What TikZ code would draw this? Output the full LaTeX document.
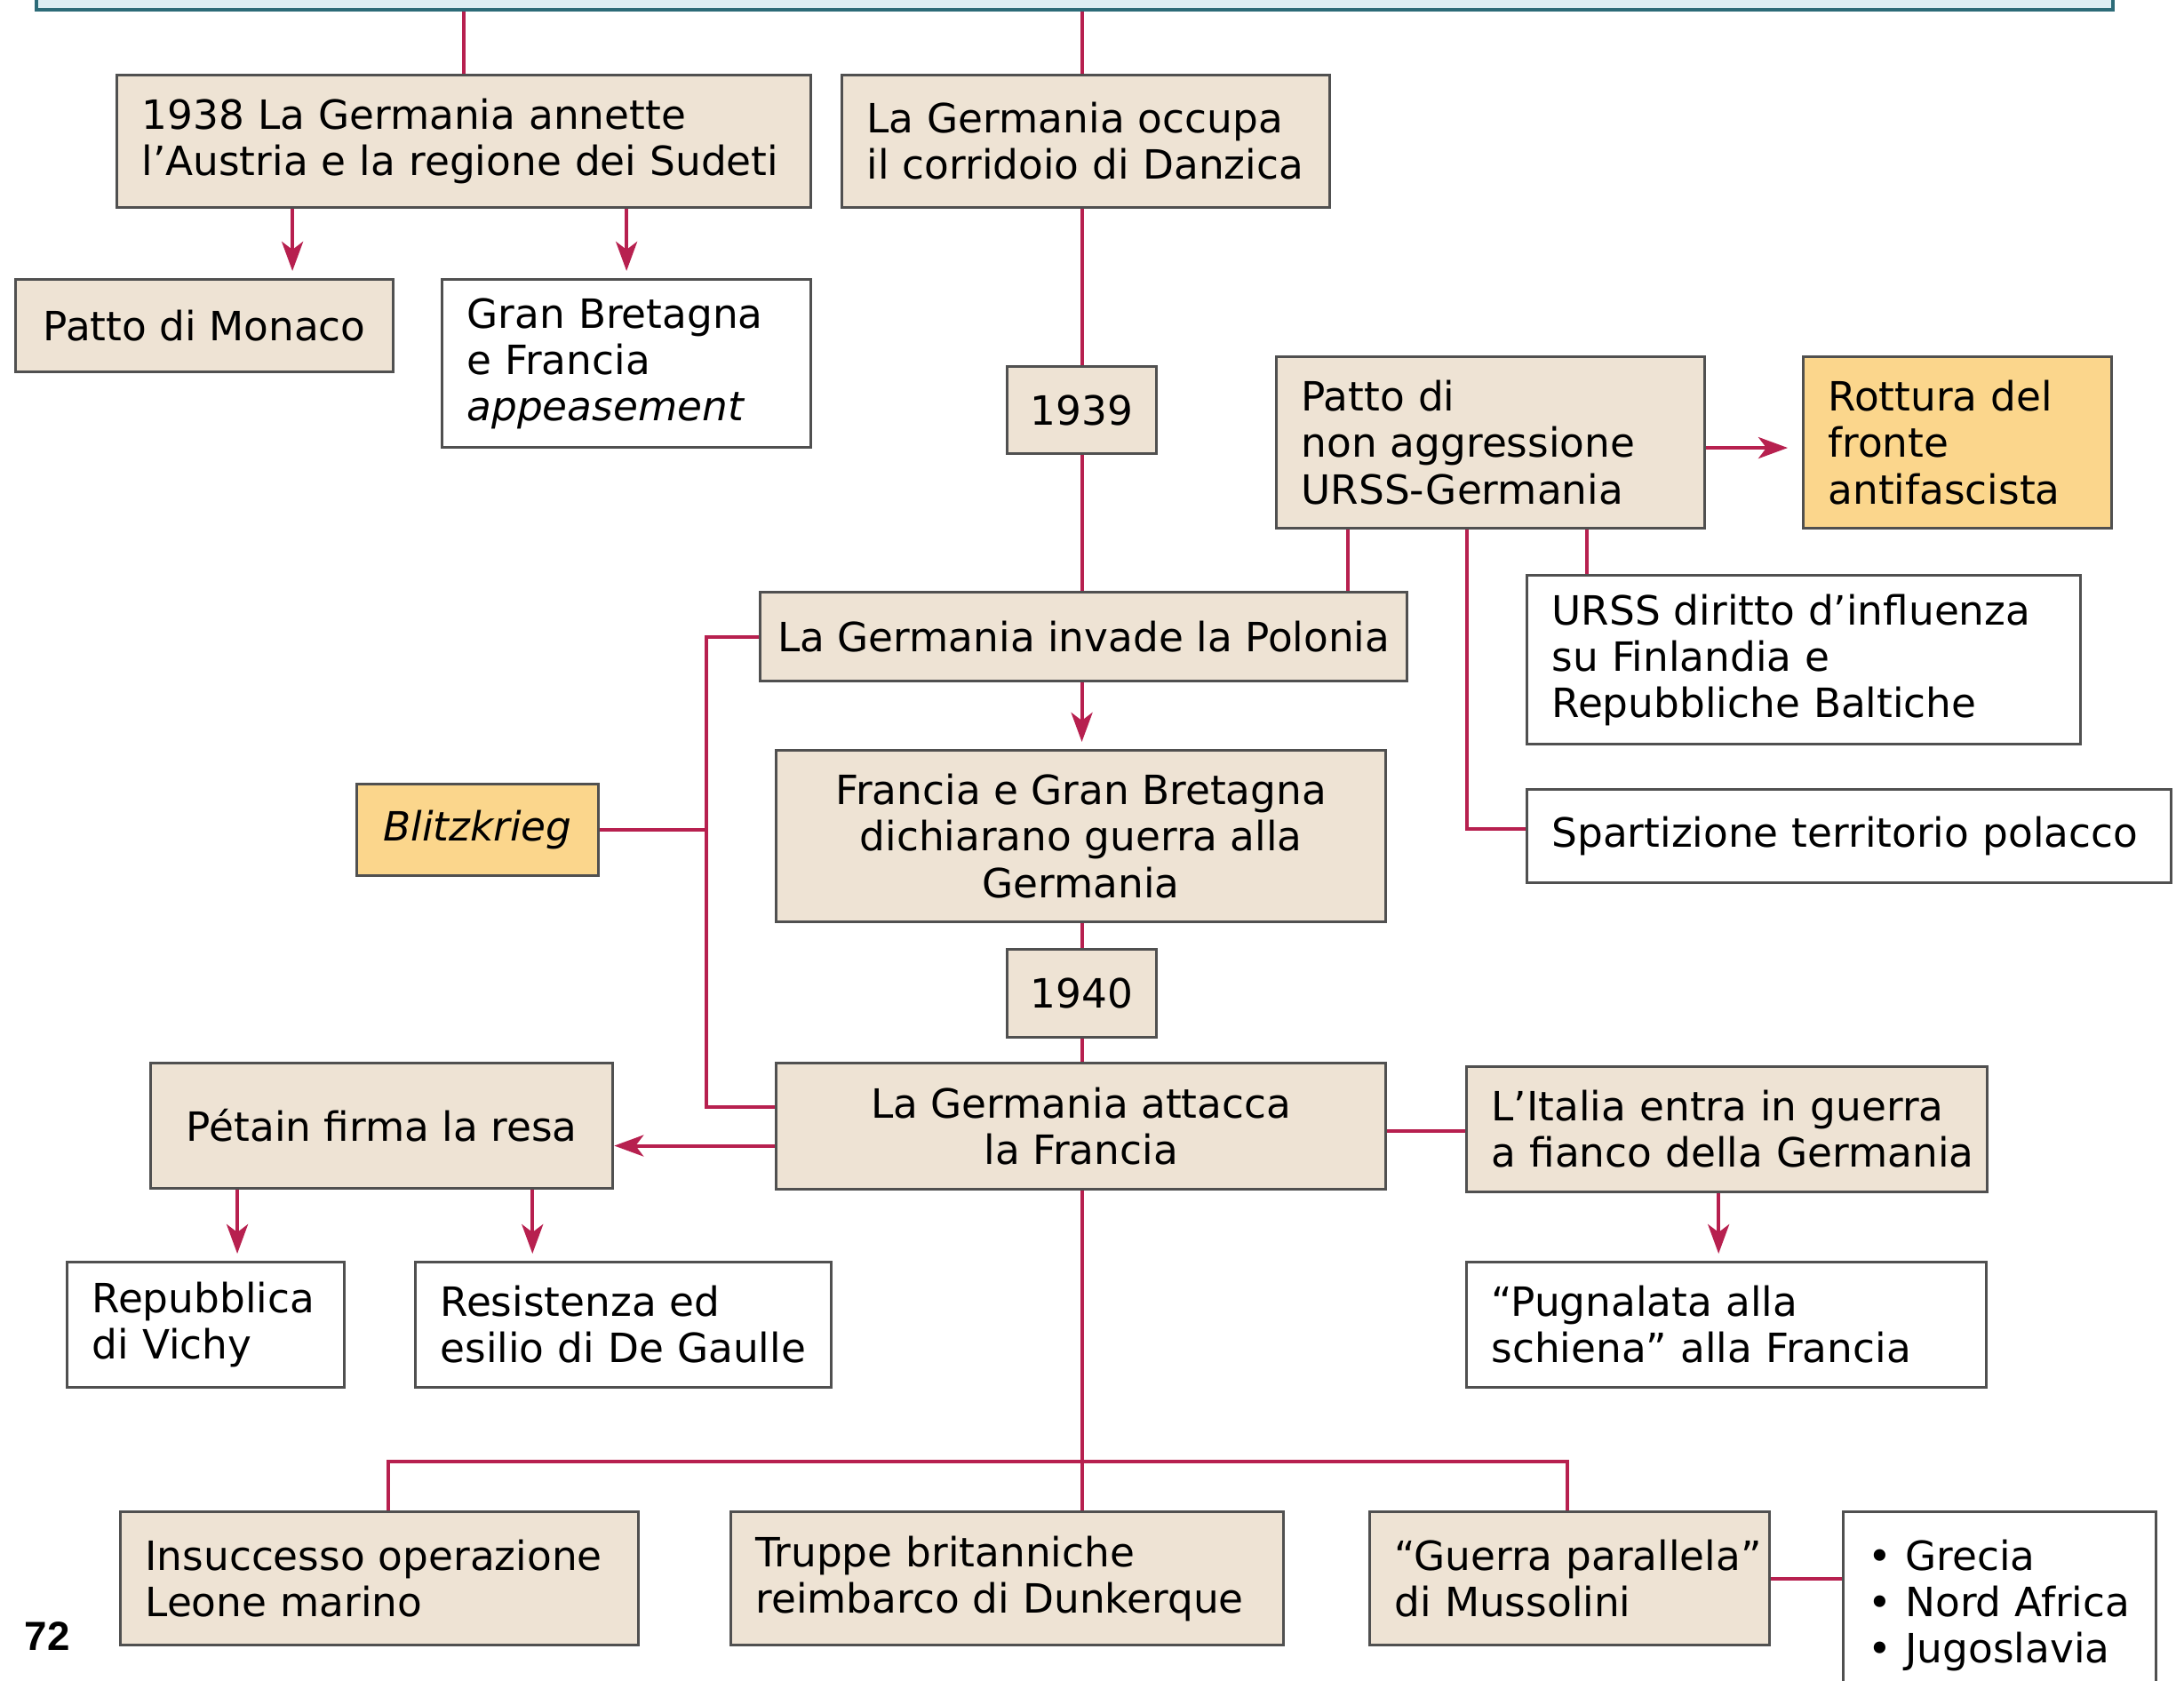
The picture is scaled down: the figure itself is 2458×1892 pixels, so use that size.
\documentclass[tikz,border=0pt]{standalone}
\usepackage{fontspec}
\setmainfont{DejaVu Sans}
\newfontfamily\numfont{Liberation Sans}
\usetikzlibrary{arrows.meta}
\definecolor{beige}{HTML}{EEE3D4}
\definecolor{boxline}{HTML}{505050}
\definecolor{crim}{HTML}{B7204F}
\definecolor{orangebox}{HTML}{FBD68C}
\definecolor{topfill}{HTML}{DCEEF3}
\definecolor{topline}{HTML}{2C6B78}
\begin{document}
\begin{tikzpicture}[x=0.01cm,y=-0.01cm,
  base/.style={draw=boxline, line width=0.3mm, anchor=north west, inner ysep=0pt,
    font=\fontsize{12.9}{14.8}\selectfont},
  boxL/.style={base, inner xsep=2.8mm, align=left},
  boxC/.style={base, inner xsep=1mm, align=center},
  conn/.style={draw=crim, line width=0.4mm},
  arr/.style={conn, -{Stealth[length=3.3mm,width=2.4mm,inset=0.9mm]}},
]
\useasboundingbox (0,0) rectangle (2458,1892);
\clip (0,0) rectangle (2458,1892);
\fill[white] (0,0) rectangle (2458,1892);

% top box (cut off)
\node[draw=topline, fill=topfill, line width=0.35mm, anchor=south west,
  minimum width=233.6mm, minimum height=8mm, inner sep=0] (top) at (39,13) {};

% boxes
\node[boxL, fill=beige, text width=72.5mm, minimum height=14.9mm] (box1) at (130,83)
  {\mbox{1938 La Germania annette}\\\mbox{l’Austria e la regione dei Sudeti}};
\node[boxL, fill=beige, text width=49.3mm, minimum height=14.9mm] (box2) at (946,83)
  {\mbox{La Germania occupa}\\\mbox{il corridoio di Danzica}};
\node[boxC, fill=beige, minimum width=42.5mm, minimum height=10.4mm] (monaco) at (16,313)
  {Patto di Monaco};
\node[boxL, fill=white, text width=35.9mm, minimum height=18.9mm] (gb) at (496,313)
  {\mbox{Gran Bretagna}\\\mbox{e Francia}\\\mbox{\itshape appeasement}};
\node[boxC, fill=beige, minimum width=16.8mm, minimum height=9.8mm] (y39) at (1132,411)
  {1939};
\node[boxL, fill=beige, text width=42.6mm, minimum height=19.3mm] (patto) at (1435,400)
  {\mbox{Patto di}\\\mbox{non aggressione}\\\mbox{URSS-Germania}};
\node[boxL, fill=orangebox, text width=29.1mm, minimum height=19.3mm] (rott) at (2028,400)
  {\mbox{Rottura del}\\\mbox{fronte}\\\mbox{antifascista}};
\node[boxC, fill=beige, minimum width=72.8mm, minimum height=10mm] (pol) at (854,665)
  {La Germania invade la Polonia};
\node[boxL, fill=white, text width=56.7mm, minimum height=19mm] (urss) at (1717,646)
  {\mbox{URSS diritto d’influenza}\\\mbox{su Finlandia e}\\\mbox{Repubbliche Baltiche}};
\node[boxL, fill=white, text width=66.9mm, minimum height=10.5mm] (spart) at (1717,887)
  {\mbox{Spartizione territorio polacco}};
\node[boxC, fill=orangebox, minimum width=27.2mm, minimum height=10.3mm] (blitz) at (400,881)
  {\itshape Blitzkrieg};
\node[boxC, fill=beige, minimum width=68.6mm, minimum height=19.3mm] (fr) at (872,843)
  {Francia e Gran Bretagna\\dichiarano guerra alla\\Germania};
\node[boxC, fill=beige, minimum width=16.8mm, minimum height=9.9mm] (y40) at (1132,1067)
  {1940};
\node[boxC, fill=beige, minimum width=68.6mm, minimum height=14.2mm] (att) at (872,1195)
  {La Germania attacca\\la Francia};
\node[boxC, fill=beige, minimum width=52mm, minimum height=14.1mm] (pet) at (168,1195)
  {Pétain firma la resa};
\node[boxL, fill=white, text width=25.6mm, minimum height=14.1mm] (vichy) at (74,1419)
  {\mbox{Repubblica}\\\mbox{di Vichy}};
\node[boxL, fill=white, text width=41.2mm, minimum height=14.1mm] (resist) at (466,1419)
  {\mbox{Resistenza ed}\\\mbox{esilio di De Gaulle}};
\node[boxL, fill=beige, text width=53mm, minimum height=14.1mm] (ital) at (1649,1199)
  {\mbox{L’Italia entra in guerra}\\\mbox{a fianco della Germania}};
\node[boxL, fill=white, text width=52.9mm, minimum height=14.1mm] (pugn) at (1649,1419)
  {\mbox{“Pugnalata alla}\\\mbox{schiena” alla Francia}};
\node[boxL, fill=beige, text width=52.7mm, minimum height=15mm] (leone) at (134,1700)
  {\mbox{Insuccesso operazione}\\\mbox{Leone marino}};
\node[boxL, fill=beige, text width=56.6mm, minimum height=15mm] (truppe) at (821,1700)
  {\mbox{Truppe britanniche}\\\mbox{reimbarco di Dunkerque}};
\node[boxL, fill=beige, text width=39.4mm, minimum height=15mm] (guerra) at (1540,1700)
  {\mbox{“Guerra parallela”}\\\mbox{di Mussolini}};
\node[boxL, fill=white, text width=29.6mm, minimum height=21mm] (list) at (2073,1700)
  {\mbox{• Grecia}\\\mbox{• Nord Africa}\\\mbox{• Jugoslavia}};

\node[font=\numfont\bfseries\fontsize{13}{15}\selectfont, anchor=west, inner sep=0] (pg) at (27,1842) {72};

% helper coordinates
\coordinate (a1) at ([xshift=19.9mm]box1.south west);
\coordinate (p1) at ([xshift=8.2mm]patto.south west);
\coordinate (p2) at ([xshift=35.1mm]patto.south west);
\coordinate (p3) at ([xshift=21.6mm]patto.south west);
\coordinate (lx) at (795,715);
\coordinate (aw1) at ([yshift=2.2mm]att.west);
\coordinate (aw2) at ([yshift=-2.2mm]att.west);
\coordinate (v1) at ([xshift=9.9mm]pet.south west);
\coordinate (v2) at ([xshift=43.1mm]pet.south west);
\coordinate (i1) at ([xshift=28.5mm]ital.south west);
\coordinate (bl) at (437,1645);
\coordinate (br) at (1764,1645);

% connectors
\draw[conn] (box1.north) -- (box1.north |- top.south);
\draw[conn] (y39.north |- top.south) -- (y39.north |- box2.north);
\draw[arr, shorten >=0.8mm] (a1) -- (a1 |- monaco.north);
\draw[arr, shorten >=0.8mm] (gb.north |- box1.south) -- (gb.north);
\draw[conn] (y39.north |- box2.south) -- (y39.north);
\draw[conn] (y39.south) -- (y39.south |- pol.north);
\draw[arr, shorten >=1.6mm] ([yshift=-0.6mm]patto.east) -- ([yshift=-0.6mm]patto.east -| rott.west);
\draw[conn] (p1) -- (p1 |- pol.north);
\draw[conn] (p2) -- (p2 |- urss.north);
\draw[conn] (p3) |- ([yshift=0.85mm]spart.west);
\draw[arr, shorten >=0.8mm] (y39.south |- pol.south) -- (y39.south |- fr.north);
\draw[conn] (y40.north |- fr.south) -- (y40.north);
\draw[conn] (y40.south) -- (y40.south |- att.north);
\draw[conn] (pol.west) -- (pol.west -| lx) -- (aw1 -| lx) -- (aw1);
\draw[conn] (blitz.east) -- (blitz.east -| lx);
\draw[arr] (aw2) -- (aw2 -| pet.east);
\draw[arr, shorten >=0.8mm] (v1) -- (v1 |- vichy.north);
\draw[arr, shorten >=0.8mm] (v2) -- (v2 |- resist.north);
\draw[conn] ([yshift=-0.5mm]att.east) -- ([yshift=-0.5mm]att.east -| ital.west);
\draw[arr, shorten >=0.8mm] (i1) -- (i1 |- pugn.north);
\draw[conn] (y40.south |- att.south) -- (y40.south |- truppe.north);
\draw[conn] (bl |- leone.north) -- (bl) -- (br) -- (br |- guerra.north);
\draw[conn] (guerra.east) -- (guerra.east -| list.west);
\end{tikzpicture}
\end{document}
